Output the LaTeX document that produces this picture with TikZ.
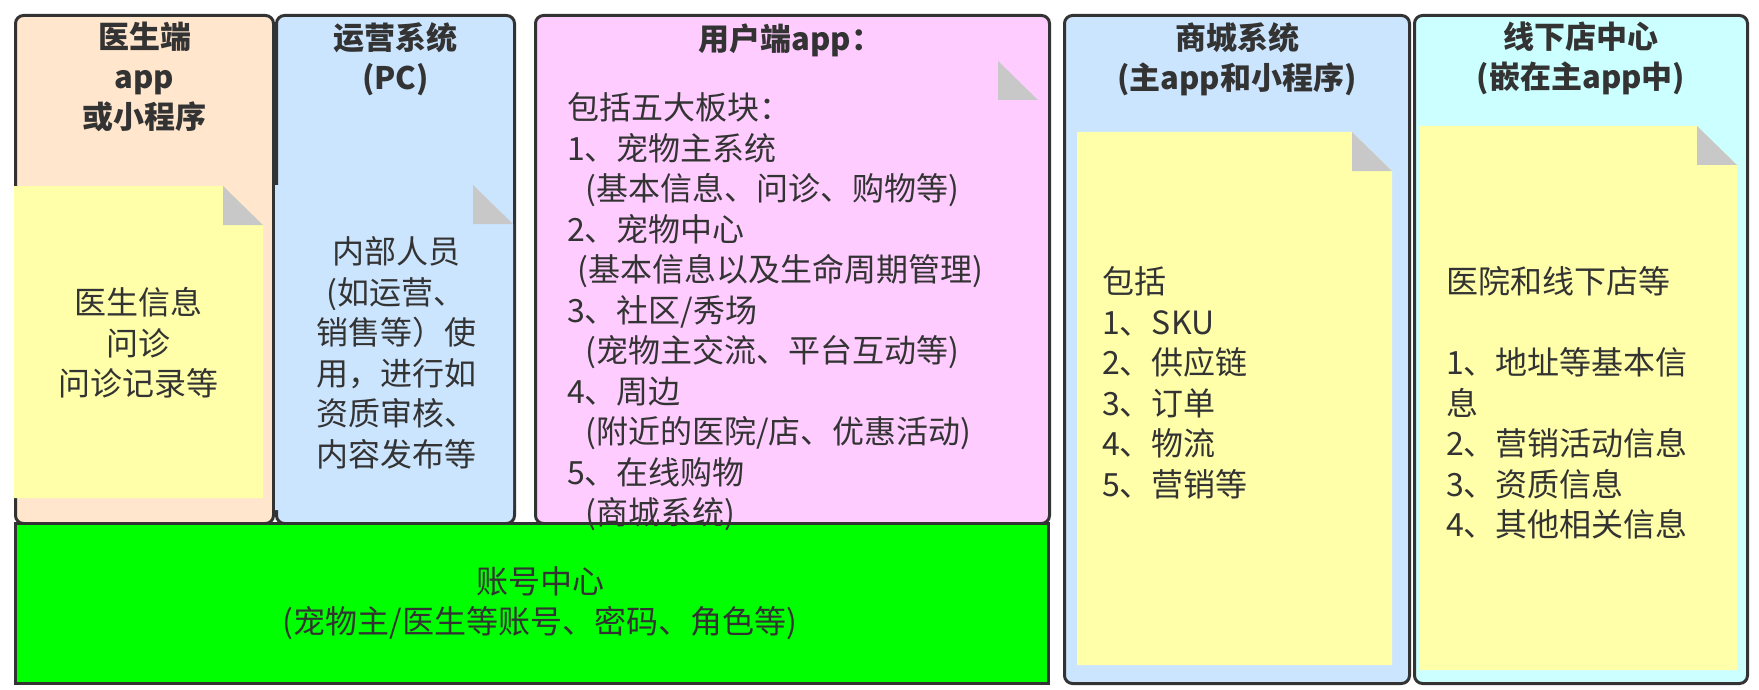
\documentclass[tikz,border=0pt]{standalone}
\usepackage{fontspec}
\setmainfont{Noto Sans CJK SC}
\usepackage{xcolor}
\usetikzlibrary{positioning}
\definecolor{peach}{HTML}{FFE6CC}
\definecolor{skyblue}{HTML}{CCE5FF}
\definecolor{pinkish}{HTML}{FFCCFF}
\definecolor{aqua}{HTML}{CCFFFF}
\definecolor{notey}{HTML}{FFFFAA}
\definecolor{foldgray}{HTML}{C8C8C8}
\definecolor{ink}{HTML}{333333}

\begin{document}
\begin{tikzpicture}[x=1pt, y=-1pt,
  panel/.style={draw=ink, line width=3pt, rounded corners=8pt, anchor=north west, inner sep=0pt},
  title/.style={font=\fontsize{31}{40}\selectfont\bfseries, text=ink, align=center, inner sep=0pt},
  body/.style={font=\fontsize{32}{40.5}\selectfont, text=ink, inner sep=0pt},
  fold/.style={fill=foldgray},
]
\useasboundingbox (0,0) rectangle (1759,690);

% upper panels
\node[panel, fill=peach, minimum width=258pt, minimum height=508pt] (doctor) at (14,14) {};
\node[panel, fill=skyblue, minimum width=238pt, minimum height=508pt] (ops) at (275,14) {};
\node[panel, fill=pinkish, minimum width=514pt, minimum height=508pt] (user) at (534,14) {};
\node[panel, fill=skyblue, minimum width=345pt, minimum height=668pt] (mall) at (1063,14) {};
\node[panel, fill=aqua, minimum width=333pt, minimum height=668pt] (offline) at (1413,14) {};

% notes with folded corner
\foreach \xa/\ya/\xb/\yb/\col in {14/186/263/498/notey, 275/185/513/510/skyblue,
    545/61/1038/515/pinkish, 1077/132/1392/665/notey, 1420/126/1737/670/notey}{
  \fill[\col] (\xa,\ya) -- ({\xb-40},\ya) -- (\xb,{\ya+39}) -- (\xb,\yb) -- (\xa,\yb) -- cycle;
  \fill[fold] ({\xb-40},\ya) -- ({\xb-40},{\ya+39}) -- (\xb,{\ya+39}) -- cycle;
}

% account centre
\node[panel, fill=green, rounded corners=0pt, minimum width=1033pt, minimum height=160pt] (account) at (14,522) {};

% titles
\node[title, below=8pt of doctor.north] (doctitle) {医生端\\app\\或小程序};
\node[title, below=8pt of ops.north] (opstitle) {运营系统\\(PC)};
\node[title, below=10pt of user.north, xshift=-2pt] (usertitle) {用户端app：};
\node[title, below=8pt of mall.north] (malltitle) {商城系统\\(主app和小程序)};
\node[title, below=8pt of offline.north] (offtitle) {线下店中心\\(嵌在主app中)};

% texts
\node[body, align=center] (doctext) at (138,343) {医生信息\\问诊\\问诊记录等};
\node[body, align=center] (opstext) at (396,353) {内部人员\\(如运营、\\销售等）使\\用，进行如\\资质审核、\\内容发布等};
\node[body, align=left, anchor=west] (usertext) at (567,312) {包括五大板块：\\1、宠物主系统\\\hspace*{18pt}(基本信息、问诊、购物等)\\2、宠物中心\\\hspace*{10pt}(基本信息以及生命周期管理)\\3、社区/秀场\\\hspace*{18pt}(宠物主交流、平台互动等)\\4、周边\\\hspace*{18pt}(附近的医院/店、优惠活动)\\5、在线购物\\\hspace*{18pt}(商城系统)};
\node[body, align=left, anchor=west] (malltext) at (1102,383) {包括\\1、SKU\\2、供应链\\3、订单\\4、物流\\5、营销等};
\node[body, align=left, anchor=west] (offtext) at (1446,403) {医院和线下店等\\\mbox{}\\1、地址等基本信\\息\\2、营销活动信息\\3、资质信息\\4、其他相关信息};
\node[body, align=center] (acctext) at (540,603) {账号中心\\(宠物主/医生等账号、密码、角色等)};
\end{tikzpicture}
\end{document}
